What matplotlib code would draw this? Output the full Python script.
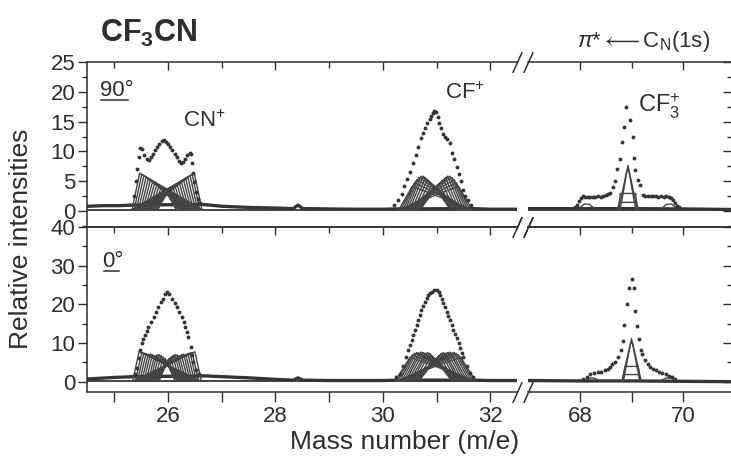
import numpy as np
import matplotlib
matplotlib.use('Agg')
import matplotlib.pyplot as plt
from matplotlib.ticker import MultipleLocator, FixedLocator
from matplotlib.lines import Line2D

plt.rcParams['font.family'] = ['Liberation Sans', 'DejaVu Sans']
plt.rcParams['mathtext.fontset'] = 'custom'
plt.rcParams['mathtext.rm'] = 'Liberation Sans'
plt.rcParams['mathtext.it'] = 'Liberation Sans:italic'
plt.rcParams['mathtext.bf'] = 'Liberation Sans:bold'

INK = '#2e2e2e'
DOT = '#353535'
FIT = '#444444'

# ---------------- experimental points, 90 deg ----------------
cn90_x = [25.36, 25.40, 25.43, 25.45, 25.48, 25.52, 25.56, 25.60, 25.64, 25.68, 25.72, 25.76,
          25.80, 25.84, 25.88, 25.92, 25.96, 26.00, 26.04, 26.08, 26.12, 26.16, 26.20, 26.24,
          26.28, 26.32, 26.36, 26.40, 26.43, 26.45, 26.47, 26.49, 26.52, 26.56, 26.60]
cn90_y = [2.5, 5.0, 7.0, 9.0, 10.6, 10.4, 9.4, 8.7, 8.6, 9.0, 9.6, 10.2,
          10.8, 11.3, 11.7, 11.9, 11.5, 11.2, 10.8, 10.2, 9.6, 9.0, 8.4, 8.1,
          8.3, 8.8, 9.4, 9.8, 9.5, 8.0, 6.4, 4.9, 3.2, 2.0, 1.4]

cf90_x = [30.20, 30.28, 30.35, 30.40, 30.45, 30.50, 30.56, 30.61, 30.66, 30.71, 30.75, 30.79,
          30.83, 30.87, 30.90, 30.93, 30.96, 30.99, 31.02, 31.05, 31.08, 31.12, 31.16, 31.20,
          31.25, 31.29, 31.33, 31.38, 31.42, 31.46, 31.50, 31.54, 31.58, 31.64]
cf90_y = [1.0, 1.8, 2.8, 4.2, 5.4, 6.6, 8.0, 9.4, 10.8, 12.2, 13.1, 14.0,
          14.7, 15.4, 16.0, 16.4, 16.7, 16.6, 15.8, 14.8, 14.0, 13.0, 12.5, 12.0,
          11.4, 9.8, 8.8, 7.4, 6.2, 5.0, 3.6, 2.6, 1.8, 1.0]

cf3_90_x = [67.90, 67.94, 67.98, 68.02, 68.06, 68.10, 68.15, 68.20, 68.25, 68.30, 68.35, 68.40,
            68.45, 68.50, 68.55, 68.59, 68.64, 68.68, 68.72, 68.78, 68.82, 68.85, 68.89, 68.97,
            69.02, 69.05, 69.07, 69.12, 69.17, 69.22, 69.27, 69.32, 69.37, 69.42, 69.47, 69.52,
            69.57, 69.62, 69.67, 69.72, 69.76, 69.80, 69.84, 69.88, 69.92]
cf3_90_y = [0.6, 1.0, 1.6, 2.2, 2.5, 2.4, 2.3, 2.4, 2.3, 2.4, 2.5, 2.4,
            2.6, 2.7, 2.9, 3.1, 4.1, 5.1, 7.0, 8.7, 11.6, 14.1, 17.5, 15.3,
            12.4, 8.9, 6.9, 5.2, 4.4, 2.7, 2.6, 2.5, 2.5, 2.6, 2.5, 2.4,
            2.5, 2.4, 2.5, 2.4, 2.2, 1.8, 1.3, 0.9, 0.6]

# ---------------- experimental points, 0 deg ----------------
cn0_x = [25.38, 25.42, 25.45, 25.48, 25.51, 25.54, 25.57, 25.60, 25.63, 25.68, 25.73, 25.78,
         25.82, 25.87, 25.91, 25.95, 25.98, 26.02, 26.07, 26.12, 26.16, 26.21, 26.26, 26.29,
         26.32, 26.35, 26.38, 26.42, 26.44, 26.47, 26.52, 26.58]
cn0_y = [2.0, 3.5, 6.0, 8.2, 9.9, 11.0, 12.1, 13.2, 14.2, 15.5, 16.8, 18.1,
         19.4, 20.5, 21.5, 22.6, 23.3, 22.6, 21.5, 20.4, 19.4, 18.1, 16.8, 15.5,
         14.2, 12.9, 11.6, 9.0, 6.9, 5.0, 3.0, 2.0]

cf0_x = [30.25, 30.32, 30.38, 30.44, 30.47, 30.51, 30.54, 30.57, 30.60, 30.63, 30.66, 30.69,
         30.72, 30.75, 30.78, 30.82, 30.85, 30.88, 30.91, 30.95, 31.00, 31.04, 31.07, 31.10,
         31.13, 31.16, 31.19, 31.22, 31.25, 31.28, 31.31, 31.35, 31.38, 31.41, 31.44, 31.47,
         31.50, 31.56, 31.62, 31.68]
cf0_y = [1.2, 2.0, 4.0, 6.5, 8.2, 9.5, 10.8, 12.1, 13.4, 14.6, 15.9, 17.2,
         18.5, 19.6, 20.7, 21.6, 22.4, 22.9, 23.3, 23.6, 23.7, 23.2, 22.4, 21.4,
         20.3, 19.2, 18.1, 17.0, 15.9, 14.6, 13.4, 12.3, 11.2, 9.9, 8.6, 7.5,
         6.5, 4.0, 2.2, 1.2]

cf3_0_x = [68.05, 68.13, 68.20, 68.27, 68.34, 68.41, 68.48, 68.54, 68.58, 68.63, 68.68, 68.74,
           68.79, 68.83, 68.86, 68.91, 68.96, 69.00, 69.04, 69.07, 69.10, 69.14, 69.18, 69.20,
           69.26, 69.31, 69.36, 69.42, 69.48, 69.54, 69.60, 69.66, 69.72, 69.78, 69.84]
cf3_0_y = [0.8, 1.3, 1.9, 2.3, 2.5, 2.6, 2.9, 3.4, 3.9, 4.5, 5.2, 6.3,
           8.2, 10.4, 14.7, 20.0, 24.1, 26.5, 24.1, 18.3, 14.4, 11.1, 8.2, 7.2,
           5.6, 4.6, 3.9, 3.3, 2.9, 2.6, 2.3, 2.0, 1.6, 1.2, 0.8]

# ---------------- experimental baselines ----------------
base90_lx = [24.5, 24.8, 25.1, 25.35, 26.65, 27.0, 27.5, 28.0, 28.33, 28.42, 28.51, 29.0, 29.5, 30.0, 30.25, 31.7, 32.0, 32.5]
base90_ly = [0.8, 0.9, 0.9, 1.0, 1.1, 0.8, 0.6, 0.5, 0.4, 1.0, 0.4, 0.35, 0.3, 0.3, 0.35, 0.4, 0.3, 0.3]
base90_rx = [67.0, 67.5, 68.0, 69.0, 70.0, 70.5, 71.0]
base90_ry = [0.4, 0.4, 0.4, 0.4, 0.35, 0.3, 0.25]
base0_lx = [24.5, 25.0, 25.35, 26.7, 27.0, 27.5, 28.0, 28.33, 28.42, 28.51, 29.0, 30.0, 30.25, 31.7, 32.0, 32.5]
base0_ly = [0.7, 1.1, 1.3, 1.5, 1.3, 1.0, 0.6, 0.4, 1.0, 0.4, 0.3, 0.3, 0.4, 0.4, 0.3, 0.3]
base0_rx = [67.0, 68.0, 69.0, 70.0, 71.0]
base0_ry = [0.3, 0.2, 0.2, 0.1, 0.0]

# ---------------- fit components: horn offset from centre, horn height, foot width ----------------
cn90_c = 25.98
cn90_w = [0.03, 0.07, 0.11, 0.15, 0.19, 0.23, 0.27, 0.31, 0.35, 0.39, 0.43, 0.47, 0.51]
cn90_h = [3.3, 3.5, 3.7, 3.9, 4.1, 4.4, 4.6, 4.9, 5.1, 5.4, 5.7, 5.9, 6.1]
cn90_d = 0.14

cf90_c = 30.98
cf90_w = [0.03, 0.07, 0.11, 0.15, 0.19, 0.23, 0.27, 0.31, 0.35, 0.39, 0.43]
cf90_h = [3.9, 4.2, 4.6, 5.0, 5.3, 5.6, 5.6, 5.4, 5.0, 4.5, 3.9]
cf90_d = 0.25

cn0_c = 25.98
cn0_w = [0.03, 0.07, 0.11, 0.15, 0.19, 0.23, 0.27, 0.31, 0.35, 0.39, 0.43, 0.47, 0.52]
cn0_h = [5.8, 6.2, 6.6, 6.9, 6.8, 6.6, 6.8, 7.0, 6.9, 7.1, 7.3, 7.4, 7.6]
cn0_d = 0.12

cf0_c = 30.98
cf0_w = [0.03, 0.07, 0.11, 0.15, 0.19, 0.23, 0.27, 0.31, 0.35, 0.39, 0.43, 0.47]
cf0_h = [6.0, 6.6, 7.2, 7.4, 7.2, 7.4, 7.5, 7.3, 7.4, 7.2, 6.8, 6.2]
cf0_d = 0.28

# CF3+: trapezoids (offset from centre, half top width, height, foot width)
cf3_90_c = 68.93
cf3_90_off = [0.0, 0.0, 0.0, 0.0, -0.80, 0.80]
cf3_90_w = [0.0, 0.02, 0.15, 0.17, 0.05, 0.05]
cf3_90_h = [7.4, 6.6, 2.7, 1.2, 0.9, 0.9]
cf3_90_d = [0.15, 0.16, 0.03, 0.03, 0.12, 0.12]

cf3_0_c = 69.0
cf3_0_off = [0.0, 0.0, 0.0, 0.0, -0.78, 0.72]
cf3_0_w = [0.0, 0.02, 0.13, 0.15, 0.05, 0.05]
cf3_0_h = [11.0, 9.8, 3.8, 1.7, 0.8, 0.8]
cf3_0_d = [0.16, 0.17, 0.03, 0.03, 0.12, 0.12]

fit_base90 = 0.25
fit_base0 = 0.15


def draw_fit(ax, c, w, h, d, base):
    # each component: a pair of skewed triangles (left horn / right horn)
    for wi, hi in zip(w, h):
        ax.plot([c - wi - d, c - wi, c + wi + d], [base, base + hi, base], color=FIT, lw=1.0, zorder=2)
        ax.plot([c - wi - d, c + wi, c + wi + d], [base, base + hi, base], color=FIT, lw=1.0, zorder=2)


def draw_trap(ax, c, off, w, h, d, base):
    for oi, wi, hi, di in zip(off, w, h, d):
        x0 = c + oi
        ax.plot([x0 - wi - di, x0 - wi, x0 + wi, x0 + wi + di], [base, base + hi, base + hi, base],
                color=FIT, lw=1.0, zorder=2)


def draw_dots(ax, x, y):
    ax.plot(x, y, 'o', color=DOT, ms=2.8, mew=0, zorder=3)


def draw_base(ax, x, y, fb):
    ax.axhline(fb, color=FIT, lw=1.4, zorder=2)
    ax.plot(x, y, color=DOT, lw=2.4, zorder=2)


fig = plt.figure(figsize=(7.31, 4.61), dpi=100)
L, M1, M2, R = 0.119, 0.7073, 0.7223, 1.0014
B0, H = 0.1497, 0.3579
B1 = B0 + H

ax_tl = fig.add_axes([L, B1, M1 - L, H])
ax_tr = fig.add_axes([M2, B1, R - M2, H])
ax_bl = fig.add_axes([L, B0, M1 - L, H])
ax_br = fig.add_axes([M2, B0, R - M2, H])

# data
draw_base(ax_tl, base90_lx, base90_ly, fit_base90)
draw_fit(ax_tl, cn90_c, cn90_w, cn90_h, cn90_d, fit_base90)
draw_fit(ax_tl, cf90_c, cf90_w, cf90_h, cf90_d, fit_base90)
draw_dots(ax_tl, cn90_x, cn90_y)
draw_dots(ax_tl, cf90_x, cf90_y)

draw_base(ax_tr, base90_rx, base90_ry, fit_base90)
draw_trap(ax_tr, cf3_90_c, cf3_90_off, cf3_90_w, cf3_90_h, cf3_90_d, fit_base90)
draw_dots(ax_tr, cf3_90_x, cf3_90_y)

draw_base(ax_bl, base0_lx, base0_ly, fit_base0)
draw_fit(ax_bl, cn0_c, cn0_w, cn0_h, cn0_d, fit_base0)
draw_fit(ax_bl, cf0_c, cf0_w, cf0_h, cf0_d, fit_base0)
draw_dots(ax_bl, cn0_x, cn0_y)
draw_dots(ax_bl, cf0_x, cf0_y)

draw_base(ax_br, base0_rx, base0_ry, fit_base0)
draw_trap(ax_br, cf3_0_c, cf3_0_off, cf3_0_w, cf3_0_h, cf3_0_d, fit_base0)
draw_dots(ax_br, cf3_0_x, cf3_0_y)

# limits
for ax in (ax_tl, ax_bl):
    ax.set_xlim(24.49, 32.5)
for ax in (ax_tr, ax_br):
    ax.set_xlim(66.99, 70.95)
for ax in (ax_tl, ax_tr):
    ax.set_ylim(-2.68, 25)
for ax in (ax_bl, ax_br):
    ax.set_ylim(-2.66, 40)

# spines and ticks
for ax in (ax_tl, ax_tr, ax_bl, ax_br):
    for s in ax.spines.values():
        s.set_linewidth(1.1)
        s.set_color(INK)
    ax.tick_params(which='both', colors=INK, width=1.0, labelsize=16, labelcolor=INK)

for ax in (ax_tl, ax_bl):
    ax.spines['right'].set_visible(False)
    ax.xaxis.set_major_locator(MultipleLocator(2))
    ax.xaxis.set_minor_locator(MultipleLocator(1))
    ax.yaxis.tick_left()
    ax.tick_params(axis='y', which='major', direction='out', length=6.5, pad=2)
    ax.tick_params(axis='y', which='minor', direction='out', length=3.5)
for ax in (ax_tr, ax_br):
    ax.spines['left'].set_visible(False)
    ax.xaxis.set_major_locator(FixedLocator([68, 70]))
    ax.xaxis.set_minor_locator(FixedLocator([69]))
    ax.yaxis.tick_right()
    ax.tick_params(axis='y', which='both', direction='in', labelright=False)
    ax.tick_params(axis='y', which='major', length=6.5)
    ax.tick_params(axis='y', which='minor', length=3.5)

for ax in (ax_tl, ax_tr):
    ax.spines['bottom'].set_visible(False)
    ax.xaxis.tick_top()
    ax.tick_params(axis='x', which='both', direction='in', labeltop=False)
    ax.tick_params(axis='x', which='major', length=6)
    ax.tick_params(axis='x', which='minor', length=4)
    ax.yaxis.set_major_locator(MultipleLocator(5))
    ax.yaxis.set_minor_locator(MultipleLocator(2.5))

for ax in (ax_bl, ax_br):
    ax.xaxis.tick_bottom()
    ax.tick_params(axis='x', which='major', direction='out', length=7, pad=3)
    ax.tick_params(axis='x', which='minor', direction='out', length=7)
    ax.yaxis.set_major_locator(MultipleLocator(10))
    ax.yaxis.set_minor_locator(MultipleLocator(5))
    sec = ax.secondary_xaxis('top')
    sec.xaxis.set_major_locator(ax.xaxis.get_major_locator())
    sec.xaxis.set_minor_locator(ax.xaxis.get_minor_locator())
    sec.tick_params(axis='x', which='both', direction='in', labeltop=False, colors=INK, width=1.0)
    sec.tick_params(axis='x', which='major', length=6)
    sec.tick_params(axis='x', which='minor', length=4)
    sec.spines['top'].set_linewidth(1.1)
    sec.spines['top'].set_color(INK)

ax_tr.set_yticklabels([])
ax_br.set_yticklabels([])
ax_br.set_xticklabels(['68', '70'])

# break marks
brk = dict(marker=[(-0.45, -1), (0.45, 1)], markersize=15, linestyle='none',
           color=INK, mec=INK, mew=1.1, clip_on=False, zorder=5)
for ax in (ax_tl, ax_bl):
    ax.plot([1, 1], [0, 1], transform=ax.transAxes, **brk)
for ax in (ax_tr, ax_br):
    ax.plot([0, 0], [0, 1], transform=ax.transAxes, **brk)

# annotations
ax_tl.text(26.28, 15.1, 'CN$^{+}$', fontsize=16, color=INK, ha='left', va='center')
ax_tl.text(31.16, 19.8, 'CF$^{+}$', fontsize=16, color=INK, ha='left', va='center')
ax_tr.text(69.13, 17.6, 'CF$_3^{+}$', fontsize=17, color=INK, ha='left', va='center')

t90 = ax_tl.text(24.73, 20.3, '90°', fontsize=16, color=INK, ha='left', va='center')
t0 = ax_bl.text(24.78, 31.0, '0°', fontsize=16, color=INK, ha='left', va='center')

fig.text(100 / 731, 1 - 33 / 461, r'CF$_{\mathbf{3}}$CN', fontsize=22, fontweight='bold',
         color=INK, ha='left', va='center')
fig.text(577 / 731, 1 - 42 / 461, r'$\pi$*$\longleftarrow$C$_{\rm N}$(1s)', fontsize=16,
         color=INK, ha='left', va='center')
fig.text(21 / 731, 1 - 239 / 461, 'Relative intensities', rotation=90, fontsize=19,
         color=INK, ha='center', va='center')
fig.text(405 / 731, 1 - 442 / 461, 'Mass number (m/e)', fontsize=19,
         color=INK, ha='center', va='center')

# underline the angle labels
fig.canvas.draw()
inv = fig.transFigure.inverted()
for t in (t90, t0):
    bb = t.get_window_extent()
    (x0, y0), (x1, _) = inv.transform([(bb.x0 + 1, bb.y0 + 1), (bb.x1 - 5, bb.y0)])
    fig.add_artist(Line2D([x0, x1], [y0, y0], transform=fig.transFigure, color=INK, lw=1.1))

fig.savefig('out.png', dpi=100)
